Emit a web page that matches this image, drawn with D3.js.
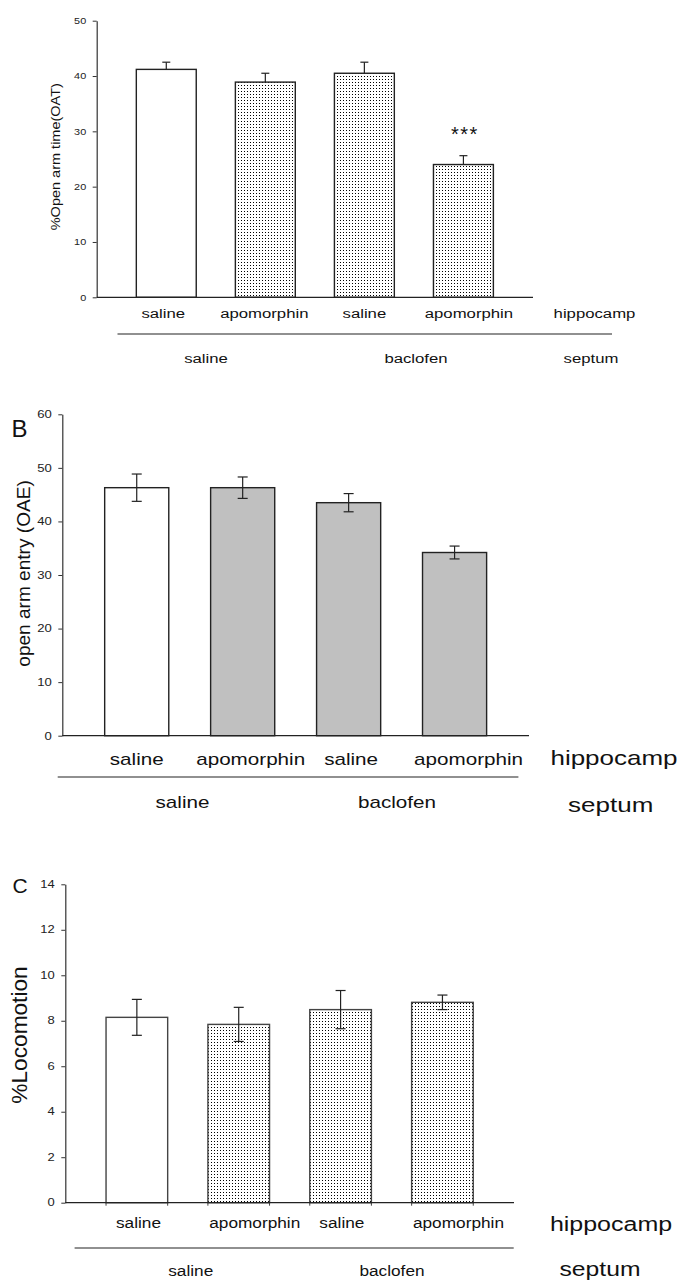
<!DOCTYPE html>
<html>
<head>
<meta charset="utf-8">
<script src="https://cdn.jsdelivr.net/npm/d3@7"></script>
<style>
  body { margin: 0; background: #fff; }
  svg { display: block; font-family: "Liberation Sans", Arial, sans-serif; }
</style>
</head>
<body>
<div id="chart"></div>
<script>
// values
const hippocampLabels = ["saline", "apomorphin", "saline", "apomorphin"];
const septumLabels = ["saline", "baclofen"];

const oatMean = [41.2, 38.9, 40.5, 24.0];
const oatSem = [1.3, 1.6, 2.0, 1.6];
const oatStars = ["", "", "", "***"];
const oatTicks = [0, 10, 20, 30, 40, 50];

const oaeMean = [46.3, 46.3, 43.5, 34.2];
const oaeSem = [2.55, 2.0, 1.7, 1.2];
const oaeTicks = [0, 10, 20, 30, 40, 50, 60];

const locoMean = [8.15, 7.84, 8.49, 8.81];
const locoSem = [0.79, 0.75, 0.84, 0.32];
const locoTicks = [0, 2, 4, 6, 8, 10, 12, 14];

const W = 681, H = 1286;

const svg = d3.select("#chart").append("svg")
  .attr("width", W)
  .attr("height", H);

// dotted fill like the scanned figure
svg.append("defs").append("pattern")
  .attr("id", "dots")
  .attr("patternUnits", "userSpaceOnUse")
  .attr("width", 3)
  .attr("height", 3)
  .call(p => {
    p.append("rect").attr("width", 3).attr("height", 3).attr("fill", "#fff");
    p.append("rect").attr("x", 1).attr("y", 1).attr("width", 1).attr("height", 1).attr("fill", "#000");
  });

// text in the original is stretched horizontally, so scale each label
function stext(parent, x, y, str, size, sx, opts) {
  opts = opts || {};
  const g = parent.append("g")
    .attr("transform", "translate(" + x + "," + y + ")" +
      (opts.rotate ? " rotate(-90)" : "") + " scale(" + sx + ",1)");
  const t = g.append("text")
    .attr("text-anchor", opts.anchor || "middle")
    .style("font-size", size + "px")
    .attr("fill", opts.fill || "#111")
    .text(str);
  if (opts.central) t.attr("dominant-baseline", "central");
  if (opts.spacing) t.style("letter-spacing", opts.spacing + "px");
  return t;
}

const panels = [
  {
    mean: oatMean, sem: oatSem, ticks: oatTicks, stars: oatStars,
    ylabel: "%Open arm time(OAT)",
    fills: ["#fff", "url(#dots)", "url(#dots)", "url(#dots)"],
    x0: 96.7, x1: 533, top: 20.7, bottom: 297.3,
    errBoth: false, cap: 4, stroke: "#222", edgeTicks: false,
    tickFont: 8.5, tickSx: 1.28,
    lab: { size: 13.5, sx: 1.24, y1: 318, shift: [-3, -1, 0, 5.5] },
    hipp: { x: 594.5, y: 318, size: 13.5, sx: 1.24 },
    rule: { x0: 117.5, x1: 612, y: 334 },
    grp: { x: [206, 416], y: 363, size: 13.5, sx: 1.24 },
    sept: { x: 591, y: 363, size: 13.5, sx: 1.24 },
    ylab: { x: 55, y: 156.7, size: 13.2, sx: 1.1 },
    letter: null
  },
  {
    mean: oaeMean, sem: oaeSem, ticks: oaeTicks, stars: null,
    ylabel: "open arm entry (OAE)",
    fills: ["#fff", "#c0c0c0", "#c0c0c0", "#c0c0c0"],
    x0: 62.3, x1: 529, top: 414.3, bottom: 735.7,
    errBoth: true, cap: 5, stroke: "#222", edgeTicks: false,
    tickFont: 10.5, tickSx: 1.25,
    lab: { size: 16, sx: 1.29, y1: 765, shift: [0, 8, 2.5, 14] },
    hipp: { x: 614, y: 765, size: 20, sx: 1.3 },
    rule: { x0: 57.7, x1: 518.4, y: 777 },
    grp: { x: [182.5, 397], y: 808, size: 16, sx: 1.29 },
    sept: { x: 610.7, y: 812, size: 20, sx: 1.3 },
    ylab: { x: 23.3, y: 573.5, size: 18, sx: 1.06 },
    letter: { text: "B", x: 11.5, y: 437, size: 24 }
  },
  {
    mean: locoMean, sem: locoSem, ticks: locoTicks, stars: null,
    ylabel: "%Locomotion",
    fills: ["#fff", "url(#dots)", "url(#dots)", "url(#dots)"],
    x0: 65.3, x1: 514, top: 884.3, bottom: 1202.7,
    errBoth: true, cap: 5, stroke: "#444", edgeTicks: true,
    tickFont: 10, tickSx: 1.3,
    lab: { size: 15, sx: 1.15, y1: 1228, shift: [1.6, 16, 1.3, 16] },
    hipp: { x: 611, y: 1231, size: 20, sx: 1.25 },
    rule: { x0: 74.6, x1: 513.7, y: 1248 },
    grp: { x: [190.7, 392], y: 1276, size: 15, sx: 1.15 },
    sept: { x: 600, y: 1276, size: 20, sx: 1.235 },
    ylab: { x: 20, y: 1035, size: 22, sx: 1.03 },
    letter: { text: "C", x: 12.5, y: 893, size: 21 }
  }
];

panels.forEach(p => {
  const g = svg.append("g");
  const idx = d3.range(p.mean.length);

  const x = d3.scaleBand()
    .domain(idx)
    .range([p.x0, p.x1])
    .paddingInner(0.395)
    .paddingOuter(0.4);

  const y = d3.scaleLinear()
    .domain([0, d3.max(p.ticks)])
    .range([p.bottom, p.top]);

  // bars
  g.selectAll("rect.bar")
    .data(idx)
    .join("rect")
    .attr("class", "bar")
    .attr("x", i => x(i))
    .attr("y", i => y(p.mean[i]))
    .attr("width", x.bandwidth())
    .attr("height", i => y(0) - y(p.mean[i]))
    .attr("fill", i => p.fills[i])
    .attr("stroke", p.stroke)
    .attr("stroke-width", 1.4);

  if (p.edgeTicks) {
    const edges = idx.flatMap(i => [x(i), x(i) + x.bandwidth()]);
    g.selectAll("line.edge")
      .data(edges)
      .join("line")
      .attr("x1", d => d).attr("x2", d => d)
      .attr("y1", y(0)).attr("y2", y(0) + 3)
      .attr("stroke", "#444").attr("stroke-width", 1);
  }

  // error bars
  const eb = g.selectAll("g.err")
    .data(idx)
    .join("g")
    .attr("class", "err")
    .attr("stroke", "#222")
    .attr("stroke-width", 1.2);
  const cx = i => x(i) + x.bandwidth() / 2;
  const lo = i => p.errBoth ? y(p.mean[i] - p.sem[i]) : y(p.mean[i]);
  eb.append("line")
    .attr("x1", cx).attr("x2", cx)
    .attr("y1", lo)
    .attr("y2", i => y(p.mean[i] + p.sem[i]));
  eb.append("line")
    .attr("x1", i => cx(i) - p.cap).attr("x2", i => cx(i) + p.cap)
    .attr("y1", i => y(p.mean[i] + p.sem[i]))
    .attr("y2", i => y(p.mean[i] + p.sem[i]));
  if (p.errBoth) {
    eb.append("line")
      .attr("x1", i => cx(i) - p.cap).attr("x2", i => cx(i) + p.cap)
      .attr("y1", lo).attr("y2", lo);
  }

  // significance marks
  if (p.stars) {
    idx.forEach(i => {
      if (!p.stars[i]) return;
      stext(g, cx(i) + 1.5, y(p.mean[i] + p.sem[i]) - 15, p.stars[i], 20, 1, { spacing: 1.5 });
    });
  }

  // y axis
  const yAxis = d3.axisLeft(y)
    .tickValues(p.ticks)
    .tickSize(4)
    .tickSizeOuter(0)
    .tickFormat(d3.format("d"));
  const ax = g.append("g")
    .attr("transform", "translate(" + p.x0 + ",0)")
    .call(yAxis);
  ax.select(".domain").attr("stroke", "#333").attr("stroke-width", 1.2);
  ax.selectAll(".tick line").attr("stroke", "#333");
  ax.selectAll(".tick text")
    .attr("x", -10.5 / p.tickSx)
    .attr("transform", "scale(" + p.tickSx + ",1)")
    .attr("fill", "#222")
    .style("font-size", p.tickFont + "px")
    .style("font-family", "'Liberation Sans', Arial, sans-serif");

  // baseline
  g.append("line")
    .attr("x1", p.x0).attr("x2", p.x1)
    .attr("y1", y(0)).attr("y2", y(0))
    .attr("stroke", "#222").attr("stroke-width", 1.3);

  // y label
  stext(g, p.ylab.x, p.ylab.y, p.ylabel, p.ylab.size, p.ylab.sx, { rotate: true, central: true });

  // hippocamp treatment labels
  idx.forEach(i => {
    stext(g, cx(i) + p.lab.shift[i], p.lab.y1, hippocampLabels[i], p.lab.size, p.lab.sx);
  });
  stext(g, p.hipp.x, p.hipp.y, "hippocamp", p.hipp.size, p.hipp.sx);

  // rule and septum treatment labels
  g.append("line")
    .attr("x1", p.rule.x0).attr("x2", p.rule.x1)
    .attr("y1", p.rule.y).attr("y2", p.rule.y)
    .attr("stroke", "#222").attr("stroke-width", 1.2);
  septumLabels.forEach((s, j) => {
    stext(g, p.grp.x[j], p.grp.y, s, p.grp.size, p.grp.sx);
  });
  stext(g, p.sept.x, p.sept.y, "septum", p.sept.size, p.sept.sx);

  if (p.letter) {
    stext(g, p.letter.x, p.letter.y, p.letter.text, p.letter.size, 1, { anchor: "start" });
  }
});
</script>
</body>
</html>
